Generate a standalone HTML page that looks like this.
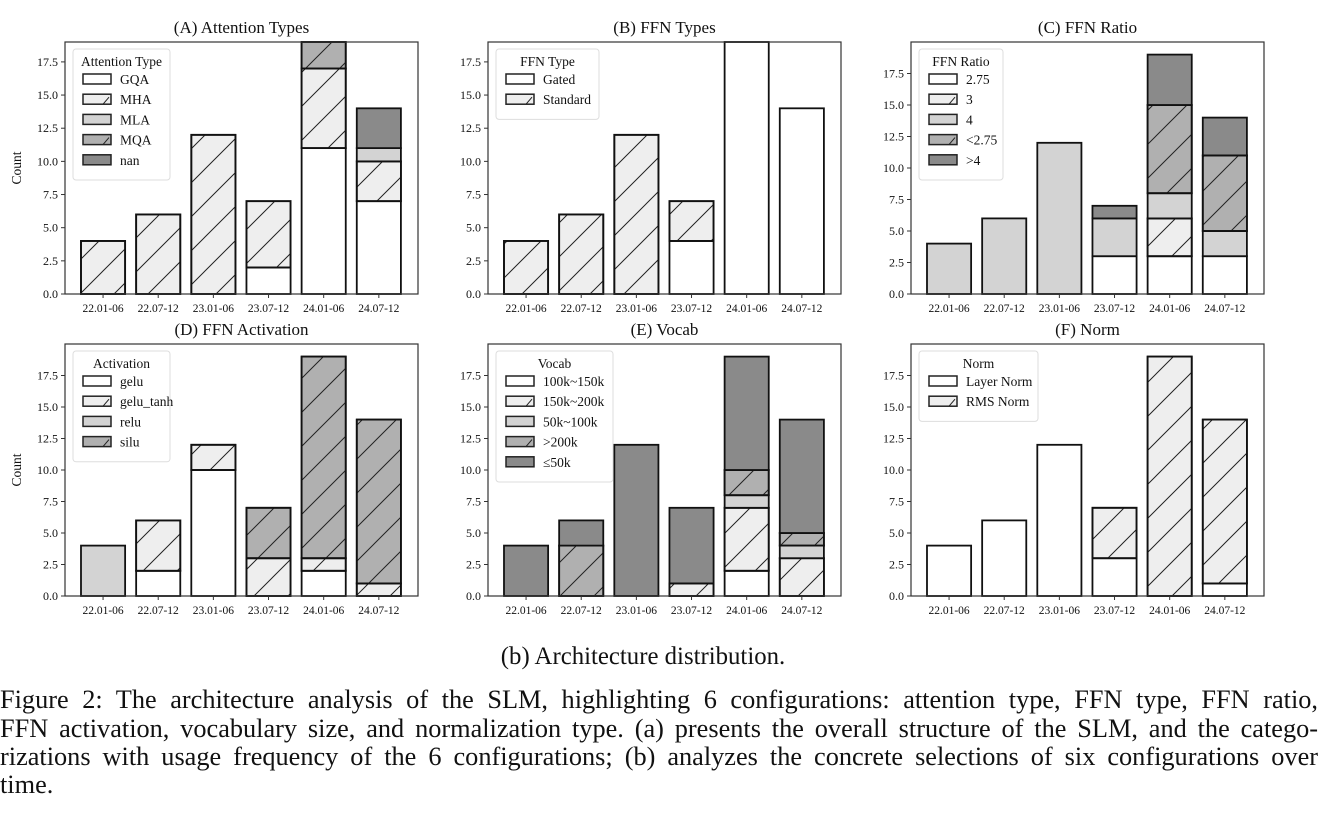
<!DOCTYPE html>
<html><head><meta charset="utf-8">
<style>
body{margin:0;width:1343px;height:819px;background:#fff;overflow:hidden;font-family:"Liberation Serif",serif;}
#fig{position:absolute;left:0;top:0;}
.cap{position:absolute;left:0;width:1318px;font-size:26.3px;line-height:30px;color:#111;text-align:justify;text-align-last:justify;white-space:nowrap;}
</style></head><body>
<svg id="fig" width="1343" height="640" xmlns="http://www.w3.org/2000/svg">
<defs>
<pattern id="hatch" patternUnits="userSpaceOnUse" width="34" height="34">
<path d="M-2,36 L36,-2 M-19,19 L19,-19 M15,53 L53,15" stroke="#222" stroke-width="1"/>
</pattern>
</defs>
</svg>
<div class="cap" style="left:0;width:1286px;text-align:center;text-align-last:center;top:642px;font-size:24.8px;">(b) Architecture distribution.</div>
<div class="cap" style="top:685px;">Figure 2: The architecture analysis of the SLM, highlighting 6 configurations: attention type, FFN type, FFN ratio,</div>
<div class="cap" style="top:714px;">FFN activation, vocabulary size, and normalization type. (a) presents the overall structure of the SLM, and the catego-</div>
<div class="cap" style="top:742px;">rizations with usage frequency of the 6 configurations; (b) analyzes the concrete selections of six configurations over</div>
<div class="cap" style="top:770px;text-align-last:left;">time.</div>
<script>
const periods = ["22.01-06","22.07-12","23.01-06","23.07-12","24.01-06","24.07-12"];
const yTicks = [0,2.5,5,7.5,10,12.5,15,17.5];
const yTickLabels = ["0.0","2.5","5.0","7.5","10.0","12.5","15.0","17.5"];

const attnCats = ["GQA","MHA","MLA","MQA","nan"];
const attnGQA = [0,0,0,2,11,7];
const attnMHA = [4,6,12,5,6,3];
const attnMLA = [0,0,0,0,0,1];
const attnMQA = [0,0,0,0,2,0];
const attnNan = [0,0,0,0,0,3];

const ffnCats = ["Gated","Standard"];
const ffnGated = [0,0,0,4,19,14];
const ffnStandard = [4,6,12,3,0,0];

const ratioCats = ["2.75","3","4","<2.75",">4"];
const ratio275 = [0,0,0,3,3,3];
const ratio3 = [0,0,0,0,3,0];
const ratio4 = [4,6,12,3,2,2];
const ratioLt275 = [0,0,0,0,7,6];
const ratioGt4 = [0,0,0,1,4,3];

const actCats = ["gelu","gelu_tanh","relu","silu"];
const actGelu = [0,2,10,0,2,0];
const actGeluTanh = [0,4,2,3,1,1];
const actRelu = [4,0,0,0,0,0];
const actSilu = [0,0,0,4,16,13];

const vocabCats = ["100k~150k","150k~200k","50k~100k",">200k","≤50k"];
const vocab100 = [0,0,0,0,2,0];
const vocab150 = [0,0,0,1,5,3];
const vocab50 = [0,0,0,0,1,1];
const vocab200 = [0,4,0,0,2,1];
const vocabLe50 = [4,2,12,6,9,9];

const normCats = ["Layer Norm","RMS Norm"];
const normLayer = [4,6,12,3,0,1];
const normRMS = [0,0,0,4,19,13];

const W="#ffffff",L="#eeeeee",M="#d3d3d3",G="#b0b0b0",D="#8a8a8a";
const panels = [
 {title:"(A) Attention Types",lt:"Attention Type",cats:attnCats,series:[attnGQA,attnMHA,attnMLA,attnMQA,attnNan],fills:[W,L,M,G,D],hatch:[0,1,0,1,0],x:65,y:42,ymax:19,ylab:true,lw:97},
 {title:"(B) FFN Types",lt:"FFN Type",cats:ffnCats,series:[ffnGated,ffnStandard],fills:[W,L],hatch:[0,1],x:488,y:42,ymax:19,lw:103},
 {title:"(C) FFN Ratio",lt:"FFN Ratio",cats:ratioCats,series:[ratio275,ratio3,ratio4,ratioLt275,ratioGt4],fills:[W,L,M,G,D],hatch:[0,1,0,1,0],x:911,y:42,ymax:20,lw:84},
 {title:"(D) FFN Activation",lt:"Activation",cats:actCats,series:[actGelu,actGeluTanh,actRelu,actSilu],fills:[W,L,M,G],hatch:[0,1,0,1],x:65,y:344,ymax:20,ylab:true,lw:97},
 {title:"(E) Vocab",lt:"Vocab",cats:vocabCats,series:[vocab100,vocab150,vocab50,vocab200,vocabLe50],fills:[W,L,M,G,D],hatch:[0,1,0,1,0],x:488,y:344,ymax:20,lw:117},
 {title:"(F) Norm",lt:"Norm",cats:normCats,series:[normLayer,normRMS],fills:[W,L],hatch:[0,1],x:911,y:344,ymax:20,lw:119}
];
const svg=document.getElementById('fig');
const NS="http://www.w3.org/2000/svg";
function mk(tag,attrs,parent){const e=document.createElementNS(NS,tag);for(const k in attrs)e.setAttribute(k,attrs[k]);(parent||svg).appendChild(e);return e;}
const AW=353,AH=252;
panels.forEach((p,pi)=>{
 const g=mk('g',{});
 
 
 const xs=i=>p.x+(i+0.69)*(AW/6.4);
 const ys=v=>p.y+AH-v*AH/p.ymax;
 const bw=0.8*AW/6.4;
 const t=mk('text',{x:p.x+AW/2,y:p.y-9,'text-anchor':'middle','font-size':17,fill:'#111'},g);t.textContent=p.title;
 
 
 periods.forEach((per,i)=>{
  let base=0;
  p.series.forEach((s,si)=>{
   const v=s[i]; if(!v) return;
   const y0=ys(base),y1=ys(base+v);
   const r=mk('rect',{x:xs(i)-bw/2,y:y1,width:bw,height:y0-y1,fill:p.fills[si],stroke:'#111','stroke-width':1.8},g);
   
   
   if(p.hatch[si]) mk('rect',{x:xs(i)-bw/2,y:y1,width:bw,height:y0-y1,fill:'url(#hatch)',stroke:'#111','stroke-width':1.8},g);
   base+=v;
  });
  mk('line',{x1:xs(i),x2:xs(i),y1:p.y+AH,y2:p.y+AH+4,stroke:'#333'},g);
  const tl=mk('text',{x:xs(i),y:p.y+AH+18,'text-anchor':'middle','font-size':11.5,fill:'#111'},g);tl.textContent=per;
  
  
 });
 yTicks.forEach((v,k)=>{
  mk('line',{x1:p.x-4,x2:p.x,y1:ys(v),y2:ys(v),stroke:'#333'},g);
  const tl=mk('text',{x:p.x-7,y:ys(v)+4,'text-anchor':'end','font-size':12,fill:'#111'},g);tl.textContent=yTickLabels[k];
  
  
 });
 mk('rect',{x:p.x,y:p.y,width:AW,height:AH,fill:'none',stroke:'#333','stroke-width':1.2},g);
 if(p.ylab){const yl=mk('text',{x:0,y:0,'text-anchor':'middle','font-size':13.5,fill:'#111',transform:`translate(21,${p.y+AH/2}) rotate(-90)`},g);yl.textContent="Count";
  
  }
 const lg=mk('g',{},g);
 
 
 const lx=p.x+8,ly=p.y+7,n=p.cats.length;
 mk('rect',{x:lx,y:ly,width:p.lw,height:30+n*20.2,fill:'#fff',stroke:'#ddd',rx:3},lg);
 const lt=mk('text',{x:lx+p.lw/2,y:ly+17,'text-anchor':'middle','font-size':13.5,fill:'#111'},lg);lt.textContent=p.lt;
 p.cats.forEach((c,ci)=>{
  const ey=ly+25+ci*20.2;
  mk('rect',{x:lx+10,y:ey,width:28,height:10,fill:p.fills[ci],stroke:'#222','stroke-width':1.5},lg);
  if(p.hatch[ci]) mk('path',{d:`M${lx+30},${ey+10} L${lx+36},${ey+3}`,stroke:'#222','stroke-width':1},lg);
  const et=mk('text',{x:lx+47,y:ey+10,'font-size':13.5,fill:'#111'},lg);et.textContent=c;
  
  
 });
});
</script>
</body></html>
